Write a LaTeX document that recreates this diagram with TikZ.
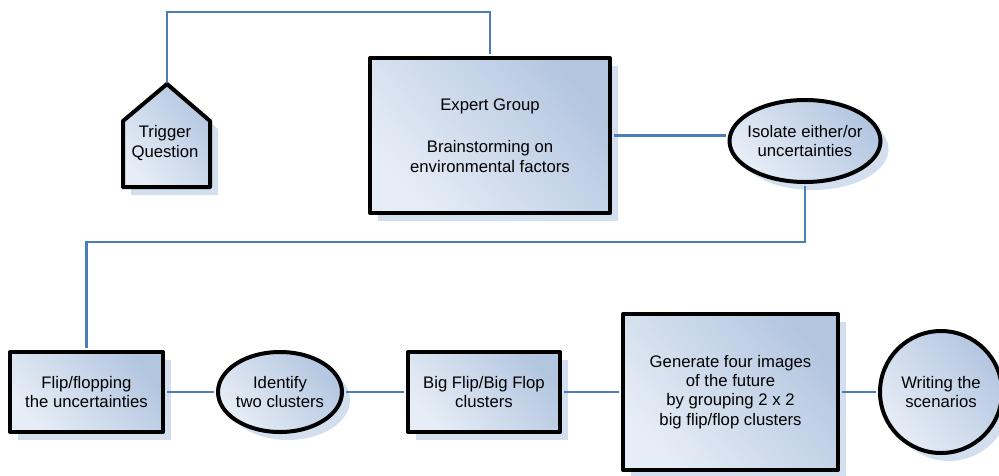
\documentclass[tikz,border=0pt]{standalone}
\usepackage{fontspec}
\setmainfont{Liberation Sans}
\usetikzlibrary{shapes.geometric,shadows}
\definecolor{linkblue}{HTML}{4A7EBB}
\definecolor{fillA}{HTML}{E6EDF6}
\definecolor{fillB}{HTML}{B3C6E0}
\definecolor{shadowblue}{HTML}{D3DEEF}

\begin{document}
\begin{tikzpicture}[x=1pt,y=-1pt,
  paint/.style={draw=black, line width=4pt, line join=round,
    left color=fillA, right color=fillB, shading angle=130,
    drop shadow={shadow xshift=8pt, shadow yshift=-8pt, fill=shadowblue, opacity=1}},
  box/.style={paint, align=center, inner sep=0pt,
    font=\fontsize{16.7}{19.3}\selectfont},
  label/.style={align=center, inner sep=0pt, font=\fontsize{16.7}{19.3}\selectfont},
  link/.style={draw=linkblue, line width=2.2pt, shorten <=2pt, shorten >=2pt}]
\useasboundingbox (0,0) rectangle (999,475);

% trigger question (house-shaped outline)
\path[paint] (123,121) -- (167,84) -- (210,121) -- (210,187) -- (123,187) -- cycle;
\coordinate (trigapex) at (167,84);
\node[label] (trigger) at (165,143) {Trigger\\Question};

% upper row
\node[box, rectangle, minimum width=240pt, minimum height=155pt] (expert) at (490,135.5)
  {Expert Group\\[23pt]Brainstorming on\\environmental factors};
\node[box, ellipse, inner xsep=-7pt, minimum width=151pt, minimum height=82pt] (isolate) at (805,141)
  {Isolate either/or\\uncertainties};

% lower row
\node[box, rectangle, minimum width=153pt, minimum height=80pt] (flip) at (86.5,392)
  {Flip/flopping\\the uncertainties};
\node[box, ellipse, inner xsep=-2pt, minimum width=124pt, minimum height=80pt] (identify) at (280,392)
  {Identify\\two clusters};
\node[box, rectangle, minimum width=152pt, minimum height=80pt] (bigflip) at (484,392)
  {Big Flip/Big Flop\\clusters};
\node[box, rectangle, minimum width=215pt, minimum height=156pt] (generate) at (730.5,392)
  {Generate four images\\of the future\\by grouping 2 x 2\\big flip/flop clusters};
\node[box, circle, minimum size=122pt] (writing) at (941,392)
  {Writing the\\scenarios};

% connectors, drawn over the shadows and stopping at the outlines
\coordinate (topturn) at (167,12);
\coordinate (midturn) at (805,242);
\draw[link] (trigapex) -- (topturn) -| (expert.north);
\draw[link] (expert.east) -- (expert.east -| isolate.west);
\draw[link] (isolate.south) -- (midturn) -| (flip.north);
\draw[link] (flip.east) -- (identify.west);
\draw[link] (identify.east) -- (bigflip.west);
\draw[link] (bigflip.east) -- (generate.west);
\draw[link] (generate.east) -- (writing.west);
\end{tikzpicture}
\end{document}
